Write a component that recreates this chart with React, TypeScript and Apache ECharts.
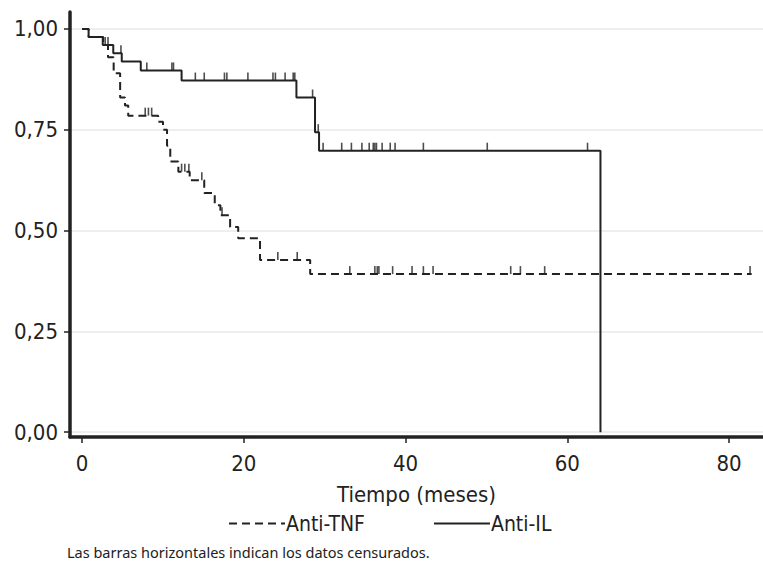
import React, { useEffect, useRef } from "react";
import * as echarts from "echarts";

// Kaplan-Meier steps: [time (months), survival]
const antiILSteps: [number, number][] = [
  [0, 1.0], [0.8, 0.98], [2.55, 0.96], [3.85, 0.94], [4.9, 0.919], [7.25, 0.897],
  [12.3, 0.872], [26.5, 0.83], [28.8, 0.744], [29.3, 0.698], [64.1, 0.698], [64.1, 0.0],
];
const antiTNFSteps: [number, number][] = [
  [0, 1.0], [0.8, 0.98], [2.6, 0.96], [3.2, 0.93], [3.9, 0.89], [4.7, 0.83], [5.3, 0.81],
  [5.7, 0.785], [9.4, 0.77], [10.0, 0.75], [10.5, 0.71], [10.9, 0.671], [11.9, 0.646],
  [13.3, 0.625], [15.1, 0.593], [16.4, 0.563], [17.1, 0.538], [18.3, 0.509], [19.3, 0.481],
  [22.0, 0.427], [28.2, 0.392], [82.8, 0.392],
];
// censored observations
const antiILCensored: [number, number][] = [
  [2.85, 0.96], [3.2, 0.96], [4.8, 0.94], [8.0, 0.897], [11.1, 0.897], [11.3, 0.897],
  [14.0, 0.872], [15.1, 0.872], [17.6, 0.872], [17.9, 0.872], [20.5, 0.872], [23.6, 0.872],
  [23.9, 0.872], [25.1, 0.872], [26.1, 0.872], [26.3, 0.872], [28.5, 0.83], [29.2, 0.744],
  [29.8, 0.698], [32.1, 0.698], [33.3, 0.698], [34.6, 0.698], [35.5, 0.698], [36.0, 0.698],
  [36.2, 0.698], [36.4, 0.698], [37.1, 0.698], [38.1, 0.698], [38.7, 0.698], [42.2, 0.698],
  [50.1, 0.698], [62.5, 0.698],
];
const antiTNFCensored: [number, number][] = [
  [7.8, 0.785], [8.2, 0.785], [8.6, 0.785], [12.3, 0.646], [12.7, 0.646], [13.2, 0.646],
  [14.8, 0.625], [17.3, 0.538], [24.2, 0.427], [26.6, 0.427], [33.1, 0.392], [36.2, 0.392],
  [36.5, 0.392], [36.7, 0.392], [38.4, 0.392], [40.8, 0.392], [42.2, 0.392], [43.4, 0.392],
  [53.0, 0.392], [54.2, 0.392], [57.2, 0.392], [82.6, 0.392],
];
const xTicks = [0, 20, 40, 60, 80];
const yTicks = [0, 0.25, 0.5, 0.75, 1.0];
const seriesNames = ["Anti-TNF", "Anti-IL"];
const xAxisName = "Tiempo (meses)";
const footnote = "Las barras horizontales indican los datos censurados.";

const INK = "#222222";
const CONDENSED = "'DejaVu Sans Condensed', 'Noto Sans', sans-serif";

export default function App() {
  const ref = useRef<HTMLDivElement>(null);
  useEffect(() => {
    if (!ref.current) return;
    const chart = echarts.init(ref.current, undefined, { renderer: "svg" });
    const censorSymbol = {
      type: "scatter" as const,
      symbol: "rect",
      symbolSize: [1.6, 8],
      symbolOffset: [0, -4],
      itemStyle: { color: INK },
      silent: true,
      z: 4,
    };
    chart.setOption({
      animation: false,
      backgroundColor: "#ffffff",
      grid: { left: 70, right: 0, top: 12, bottom: 131, containLabel: false },
      xAxis: {
        type: "value",
        min: -1.5,
        max: 84.2,
        name: xAxisName,
        nameLocation: "middle",
        nameGap: 46,
        nameTextStyle: { fontFamily: CONDENSED, fontSize: 22, color: INK },
        axisLine: { show: true, onZero: false, lineStyle: { color: INK, width: 3.5 } },
        axisTick: { show: true, length: 6, lineStyle: { color: INK, width: 1.5 }, customValues: xTicks },
        axisLabel: { customValues: xTicks, margin: 15, fontFamily: CONDENSED, fontSize: 22, color: INK },
        splitLine: { show: false },
      },
      yAxis: {
        type: "value",
        min: -0.012,
        max: 1.042,
        axisLine: { show: true, onZero: false, lineStyle: { color: INK, width: 3.5 } },
        axisTick: { show: true, length: 6, lineStyle: { color: INK, width: 1.5 }, customValues: yTicks },
        axisLabel: {
          customValues: yTicks,
          margin: 12,
          fontFamily: CONDENSED,
          fontSize: 22,
          color: INK,
          formatter: (v: number) => v.toFixed(2).replace(".", ","),
        },
        splitLine: { show: true, lineStyle: { color: "#e8e8e8", width: 1.5 } },
      },
      legend: {
        data: seriesNames,
        left: 223,
        top: 508,
        itemWidth: 56,
        itemHeight: 14,
        itemGap: 68,
        itemStyle: { opacity: 0 },
        textStyle: { fontFamily: CONDENSED, fontSize: 21, color: INK, padding: [0, 0, 0, -4] },
      },
      graphic: [
        {
          type: "text",
          left: 67,
          top: 544,
          style: { text: footnote, fontFamily: "'Noto Sans', 'Open Sans', sans-serif", fontSize: 14.5, fill: INK },
        },
      ],
      series: [
        {
          name: seriesNames[0],
          type: "line",
          step: "end",
          data: antiTNFSteps,
          symbol: "none",
          lineStyle: { color: INK, width: 2, type: [8, 5] },
          itemStyle: { color: INK },
          z: 3,
        },
        {
          name: seriesNames[1],
          type: "line",
          step: "end",
          data: antiILSteps,
          symbol: "none",
          lineStyle: { color: INK, width: 2, type: "solid" },
          itemStyle: { color: INK },
          z: 3,
        },
        { ...censorSymbol, name: "c-tnf", data: antiTNFCensored },
        { ...censorSymbol, name: "c-il", data: antiILCensored },
      ],
    });
    return () => chart.dispose();
  }, []);
  return (
    <div
      ref={ref}
      style={{ position: "fixed", left: 0, top: 0, width: 763, height: 568, background: "#fff" }}
    />
  );
}
